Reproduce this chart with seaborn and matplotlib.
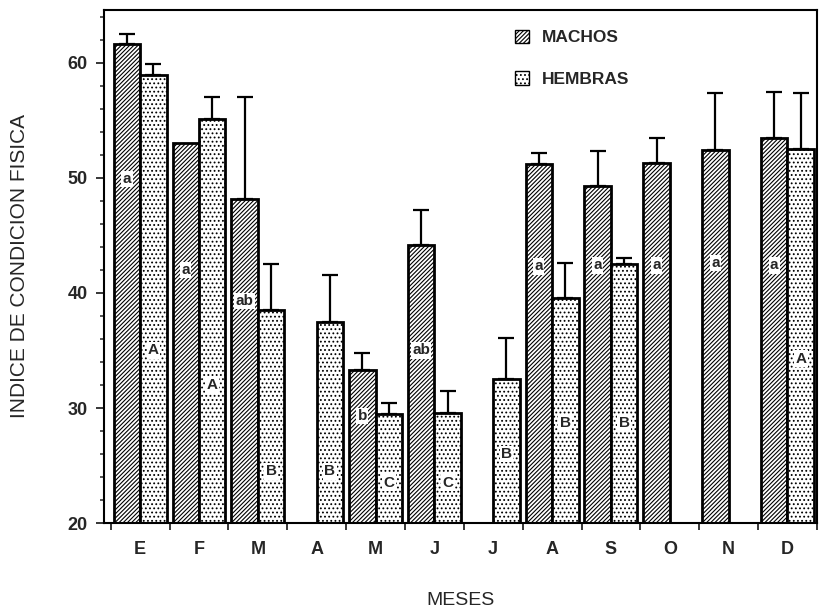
import numpy as np
import pandas as pd
import seaborn as sns
import matplotlib.pyplot as plt
from matplotlib.patches import Patch
from matplotlib.ticker import MultipleLocator

# ------------------------------
# Datos
# ------------------------------
meses = ['Enero', 'Febrero', 'Marzo', 'Abril', 'Mayo', 'Junio',
         'Julio', 'Agosto', 'Septiembre', 'Octubre', 'Noviembre', 'Diciembre']
letras_mes = ['E', 'F', 'M', 'A', 'M', 'J', 'J', 'A', 'S', 'O', 'N', 'D']

nan = np.nan
machos = [61.6, 53.0, 48.2, nan, 33.3, 44.2, nan, 51.2, 49.3, 51.3, 52.4, 53.5]
machos_err = [0.9, nan, 8.8, nan, 1.5, 3.0, nan, 1.0, 3.0, 2.2, 5.0, 4.0]
hembras = [58.9, 55.1, 38.5, 37.5, 29.5, 29.6, 32.5, 39.6, 42.5, nan, nan, 52.5]
hembras_err = [1.0, 1.9, 4.0, 4.1, 0.9, 1.9, 3.6, 3.0, 0.5, nan, nan, 4.9]

letras_machos = ['a', 'a', 'ab', '', 'b', 'ab', '', 'a', 'a', 'a', 'a', 'a']
y_letras_machos = [49.9, 42.0, 39.3, nan, 29.3, 35.0, nan, 42.3, 42.4, 42.4, 42.6, 42.4]
letras_hembras = ['A', 'A', 'B', 'B', 'C', 'C', 'B', 'B', 'B', '', '', 'A']
y_letras_hembras = [35.0, 32.0, 24.5, 24.5, 23.5, 23.5, 26.0, 28.7, 28.7, nan, nan, 34.3]

df = pd.DataFrame({
    'mes': meses * 2,
    'sexo': ['MACHOS'] * 12 + ['HEMBRAS'] * 12,
    'indice': machos + hembras,
})

# ------------------------------
# Estilo
# ------------------------------
sns.set_theme(style='white')
plt.rcParams['font.family'] = ['Liberation Sans', 'DejaVu Sans']
plt.rcParams['hatch.linewidth'] = 0.8
plt.rcParams['hatch.color'] = 'black'

fig, ax = plt.subplots(figsize=(8.21, 6.14), dpi=100)
fig.subplots_adjust(left=0.127, right=0.995, bottom=0.148, top=0.984)

sns.barplot(data=df, x='mes', y='indice', hue='sexo', order=meses,
            hue_order=['MACHOS', 'HEMBRAS'], palette=['white', 'white'],
            edgecolor='black', linewidth=2, width=0.9, errorbar=None,
            legend=False, ax=ax)

# ------------------------------
# Tramas, barras de error y letras
# ------------------------------
series = [
    ('////////', machos_err, letras_machos, y_letras_machos),
    ('....', hembras_err, letras_hembras, y_letras_hembras),
]
for cont, (trama, err, letras, y_let) in zip(ax.containers, series):
    for bar in cont:
        xc = bar.get_x() + bar.get_width() / 2
        i = int(round(xc))
        bar.set_hatch(trama)
        if not np.isnan(err[i]):
            ax.errorbar(xc, bar.get_height(), yerr=[[0], [err[i]]], fmt='none',
                        ecolor='black', elinewidth=1.6, capsize=6, capthick=1.6,
                        zorder=1)
        if letras[i]:
            ax.text(xc, y_let[i], letras[i], ha='center', va='center',
                    fontsize=11, fontweight='bold', zorder=5,
                    bbox=dict(fc='white', ec='none', pad=1.0))

# ------------------------------
# Ejes
# ------------------------------
ax.set_xlim(-0.61, 11.46)
ax.set_ylim(20, 64.6)
ax.set_xticks(range(12))
ax.set_xticklabels(letras_mes, fontsize=13, fontweight='bold')
ax.set_xticks(np.arange(-0.5, 12, 1), minor=True)
ax.tick_params(axis='x', which='major', length=0, pad=13)
ax.tick_params(axis='x', which='minor', length=5, width=1.3, direction='out', bottom=True)
ax.yaxis.set_major_locator(MultipleLocator(10))
ax.yaxis.set_minor_locator(MultipleLocator(2))
ax.tick_params(axis='y', which='major', length=6, width=1.3, direction='out', left=True,
               labelsize=13, pad=6)
ax.tick_params(axis='y', which='minor', length=3, width=1.1, direction='out', left=True)
for lab in ax.get_yticklabels():
    lab.set_fontweight('bold')
for sp in ax.spines.values():
    sp.set_linewidth(1.5)
    sp.set_color('black')

ax.set_ylabel('INDICE DE CONDICION FISICA', fontsize=15)
ax.yaxis.set_label_coords(-0.105, 0.5)
ax.set_xlabel('MESES', fontsize=14)
ax.xaxis.set_label_coords(0.5, -0.135)

handles = [Patch(facecolor='white', edgecolor='black', hatch='////////', label='MACHOS'),
           Patch(facecolor='white', edgecolor='black', hatch='....', label='HEMBRAS')]
ax.legend(handles=handles, loc='upper left', bbox_to_anchor=(0.555, 0.992),
          frameon=False, handlelength=0.8, handleheight=0.8, handletextpad=0.7,
          labelspacing=1.5, prop=dict(weight='bold', size=12.5))

plt.savefig('out.png', dpi=100)
